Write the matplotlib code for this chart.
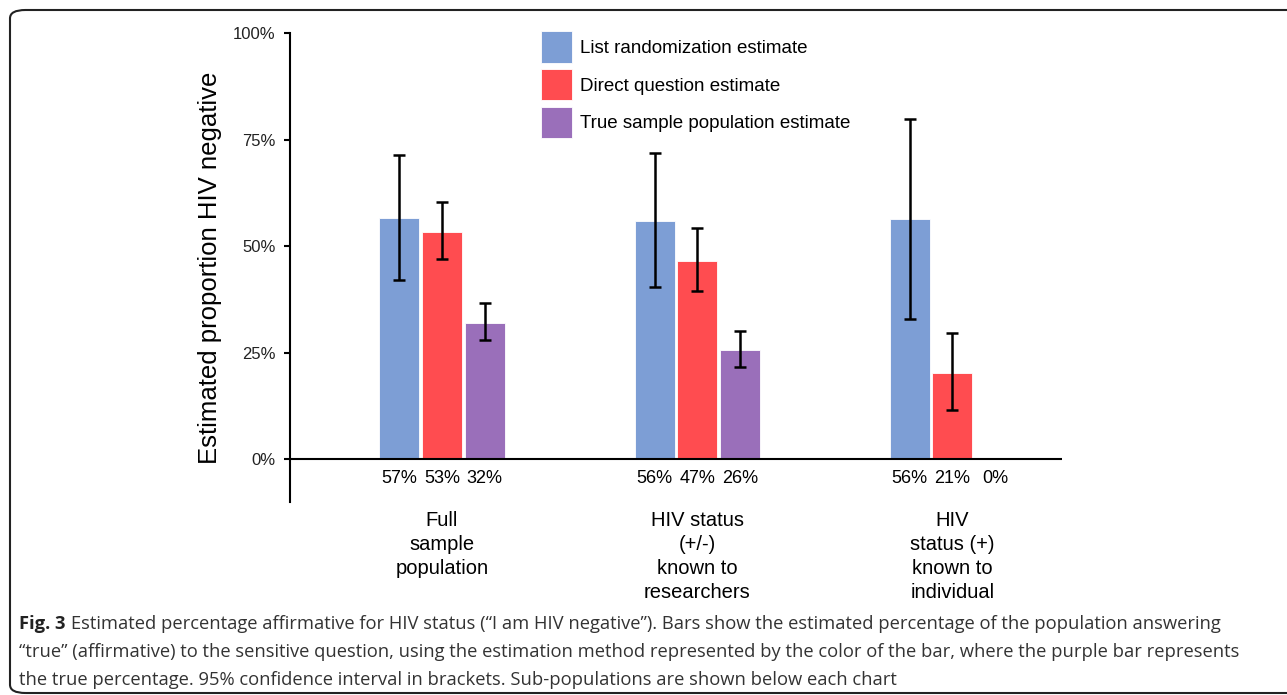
import numpy as np
import matplotlib.pyplot as plt
from matplotlib.patches import FancyBboxPatch, Patch

plt.rcParams['font.family'] = ['Liberation Sans', 'DejaVu Sans']

# Datos
grupos = ['Full\nsample\npopulation',
          'HIV status\n(+/-)\nknown to\nresearchers',
          'HIV\nstatus (+)\nknown to\nindividual']
series = ['List randomization estimate',
          'Direct question estimate',
          'True sample population estimate']
lista = [56.6, 55.9, 56.3]
lista_lo = [42.0, 40.4, 33.0]
lista_hi = [71.4, 71.8, 79.8]
directa = [53.3, 46.5, 20.3]
directa_lo = [46.9, 39.5, 11.6]
directa_hi = [60.3, 54.2, 29.7]
real = [31.9, 25.6, 0.0]
real_lo = [27.9, 21.7, np.nan]
real_hi = [36.6, 30.1, np.nan]
etiquetas = [['57%', '53%', '32%'], ['56%', '47%', '26%'], ['56%', '21%', '0%']]
colores = ['#7D9ED5', '#FF4C50', '#9A6FBA']

fig = plt.figure(figsize=(12.87, 6.95), dpi=100)
ax = fig.add_axes([290 / 1287, 1 - 502 / 695, 772 / 1287, 469 / 695])

x = np.arange(len(grupos))
ancho = 0.157
paso = 0.167

valores = [lista, directa, real]
bajos = [lista_lo, directa_lo, real_lo]
altos = [lista_hi, directa_hi, real_hi]

for i in range(3):
    xs = x + (i - 1) * paso
    v = np.array(valores[i])
    ax.bar(xs, v, ancho, color=colores[i], edgecolor='white', linewidth=0.6, zorder=2)
    lo = np.array(bajos[i])
    hi = np.array(altos[i])
    ok = ~np.isnan(lo)
    ax.errorbar(xs[ok], v[ok], yerr=[v[ok] - lo[ok], hi[ok] - v[ok]], fmt='none',
                ecolor='black', elinewidth=1.8, capsize=4, capthick=1.8, zorder=3)
    for j in range(len(grupos)):
        ax.text(xs[j], -4.5, etiquetas[j][i], ha='center', va='center', fontsize=13)

# Nombres de los grupos debajo
for j, g in enumerate(grupos):
    ax.text(x[j], -12.2, g, ha='center', va='top', fontsize=14.5, linespacing=1.32)

ax.axhline(0, color='black', lw=1.5, zorder=4)
ax.set_ylim(-10, 100)
ax.set_xlim(-0.596, 2.43)
ax.set_yticks([0, 25, 50, 75, 100])
ax.set_yticklabels(['0%', '25%', '50%', '75%', '100%'], fontsize=12, color='#222222')
ax.tick_params(axis='y', length=4.3, width=1.5, pad=6)
ax.set_xticks([])
for s in ['top', 'right', 'bottom']:
    ax.spines[s].set_visible(False)
ax.spines['left'].set_linewidth(1.5)
ax.set_ylabel('Estimated proportion HIV negative', fontsize=18.5, labelpad=8)

manejadores = [Patch(facecolor=c, edgecolor='white', linewidth=0.6) for c in colores]
fig.legend(manejadores, series, loc='upper left', bbox_to_anchor=(541 / 1287, 1 - 31 / 695),
           frameon=False, fontsize=13.5, handlelength=1.65, handleheight=2.22,
           handletextpad=0.45, labelspacing=0.33, borderpad=0, borderaxespad=0)

# Marco redondeado
marco = FancyBboxPatch((10 / 1287, 2 / 695), 1300 / 1287, 683 / 695,
                       boxstyle='round,pad=0,rounding_size=0.012', transform=fig.transFigure,
                       fill=False, edgecolor='#222222', linewidth=1.5, clip_on=False)
fig.patches.append(marco)

# Pie de figura
fuente = ['Open Sans', 'DejaVu Sans']
tam = 13.2
t1 = fig.text(19 / 1287, 1 - 629 / 695, 'Fig. 3', fontsize=tam, fontweight='bold',
              family=fuente, color='#222222', va='baseline')
ax.annotate('Estimated percentage affirmative for HIV status (\u201cI am HIV negative\u201d). '
            'Bars show the estimated percentage of the population answering',
            xy=(1, 0), xycoords=t1, xytext=(4, 0), textcoords='offset points',
            va='bottom', fontsize=tam, family=fuente, color='#333333', annotation_clip=False)
fig.text(19 / 1287, 1 - 657 / 695,
         '\u201ctrue\u201d (affirmative) to the sensitive question, using the estimation method '
         'represented by the color of the bar, where the purple bar represents',
         fontsize=tam, family=fuente, color='#333333', va='baseline')
fig.text(19 / 1287, 1 - 685 / 695,
         'the true percentage. 95% confidence interval in brackets. '
         'Sub-populations are shown below each chart',
         fontsize=tam, family=fuente, color='#333333', va='baseline')

fig.savefig('out.png', dpi=100)
